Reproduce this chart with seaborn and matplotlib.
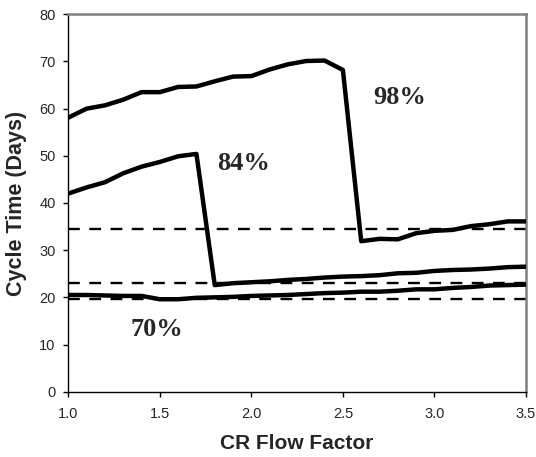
import numpy as np
import pandas as pd
import matplotlib
matplotlib.use("Agg")
import matplotlib.pyplot as plt
import seaborn as sns

flow_factor = [1.0, 1.1, 1.2, 1.3, 1.4, 1.5, 1.6, 1.7, 1.8, 1.9, 2.0, 2.1, 2.2,
               2.3, 2.4, 2.5, 2.6, 2.7, 2.8, 2.9, 3.0, 3.1, 3.2, 3.3, 3.4, 3.5]
ct_98 = [58.1, 60.0, 60.7, 61.9, 63.5, 63.5, 64.6, 64.7, 65.8, 66.8, 66.9, 68.3, 69.4,
         70.1, 70.2, 68.2, 31.9, 32.4, 32.3, 33.6, 34.1, 34.3, 35.1, 35.5, 36.1, 36.1]
ct_84 = [42.0, 43.3, 44.4, 46.3, 47.7, 48.7, 49.9, 50.4, 22.6, 23.0, 23.2, 23.4, 23.7,
         23.9, 24.2, 24.4, 24.5, 24.7, 25.1, 25.2, 25.6, 25.8, 25.9, 26.1, 26.4, 26.5]
ct_70 = [20.5, 20.5, 20.4, 20.3, 20.3, 19.6, 19.6, 19.9, 20.0, 20.1, 20.3, 20.4, 20.5,
         20.7, 20.9, 21.0, 21.2, 21.2, 21.4, 21.7, 21.7, 22.0, 22.2, 22.5, 22.6, 22.7]
ref_levels = [34.5, 23.0, 19.7]
labels = ["98%", "84%", "70%"]
label_pos = [(2.665, 62.3), (1.815, 48.4), (1.342, 13.1)]
x_ticks = [1.0, 1.5, 2.0, 2.5, 3.0, 3.5]
y_ticks = [0, 10, 20, 30, 40, 50, 60, 70, 80]

sns.set_style("white")
plt.rcParams['font.family'] = ['Liberation Sans', 'DejaVu Sans']

fig = plt.figure(figsize=(5.36, 4.57), dpi=100)
ax = fig.add_axes([0.1274, 0.1429, 0.8539, 0.8258])

for lvl in ref_levels:
    ax.axhline(lvl, color='black', lw=1.7, dashes=(5, 4), zorder=1)

for series in (ct_98, ct_84, ct_70):
    sns.lineplot(x=flow_factor, y=series, ax=ax, color='black', lw=3.2,
                 solid_joinstyle='round', solid_capstyle='round', zorder=3)

for txt, (tx, ty) in zip(labels, label_pos):
    ax.text(tx, ty, txt, family=['Liberation Serif'], fontweight='bold',
            fontsize=19, ha='left', va='center')

ax.set_xlim(1.0, 3.5)
ax.set_ylim(0, 80)
ax.set_xticks(x_ticks)
ax.set_xticklabels([f"{v:.1f}" for v in x_ticks])
ax.set_yticks(y_ticks)
ax.tick_params(axis='both', direction='out', length=3.6, width=1, color='black',
               labelsize=10.5, bottom=True, left=True)
ax.tick_params(axis='x', pad=7.5)
ax.tick_params(axis='y', pad=5.5)

for side in ('left', 'bottom'):
    ax.spines[side].set_color('black')
    ax.spines[side].set_linewidth(1.0)
for side in ('top', 'right'):
    ax.spines[side].set_color('#808080')
    ax.spines[side].set_linewidth(1.8)

ax.set_xlabel("CR Flow Factor", fontsize=15, fontweight='bold', labelpad=9.5)
ax.set_ylabel("Cycle Time (Days)", fontsize=15.5, fontweight='bold', labelpad=9)

fig.savefig("out.png", dpi=100)
